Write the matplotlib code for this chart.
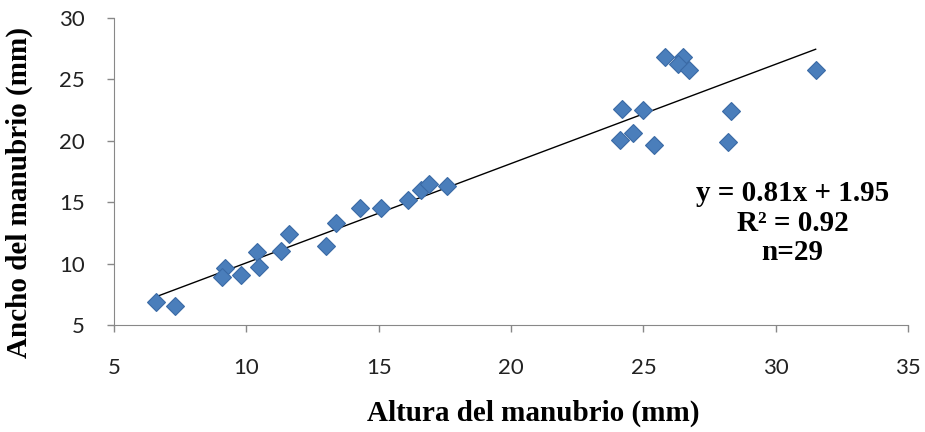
import matplotlib
matplotlib.use("Agg")
import matplotlib.pyplot as plt
import numpy as np

# datos
altura = [6.6, 7.3, 9.2, 9.1, 9.8, 10.4, 10.5, 11.3, 11.6, 13.0, 13.4, 14.3, 15.1,
          16.1, 16.6, 16.9, 17.6, 25.8, 26.5, 26.3, 26.7, 31.5, 24.2, 25.0, 28.3,
          24.1, 24.6, 25.4, 28.2]
ancho = [6.9, 6.5, 9.6, 8.9, 9.1, 10.9, 9.7, 11.0, 12.4, 11.4, 13.3, 14.5, 14.5,
         15.2, 16.0, 16.5, 16.3, 26.8, 26.8, 26.3, 25.8, 25.8, 22.6, 22.5, 22.4,
         20.1, 20.6, 19.7, 19.9]
pendiente, intercepto = 0.81, 1.95

plt.rcParams["font.family"] = ["Lato", "DejaVu Sans"]

fig = plt.figure(figsize=(9.25, 4.32), dpi=100)
ax = fig.add_axes([0.123, 0.248, 0.859, 0.71])

ax.plot(altura, ancho, linestyle="none", marker="D", markersize=9,
        color="#4A7EBB", markeredgecolor="#3A6AA5", markeredgewidth=0.8, zorder=3)

xs = np.array([min(altura), max(altura)])
ax.plot(xs, pendiente * xs + intercepto, color="black", linewidth=1.0, zorder=2)

ax.set_xlim(5, 35)
ax.set_ylim(5, 30)
ax.set_xticks(range(5, 36, 5))
ax.set_yticks(range(5, 31, 5))
ax.tick_params(labelsize=16, color="#888888", length=5, width=1, labelcolor="#222222")
ax.tick_params(axis="x", pad=19)
ax.tick_params(axis="y", pad=16)

for s in ["top", "right"]:
    ax.spines[s].set_visible(False)
for s in ["left", "bottom"]:
    ax.spines[s].set_color("#888888")

ax.set_xlabel("Altura del manubrio (mm)", fontsize=21, fontweight="bold",
              family="Liberation Serif")
ax.set_ylabel("Ancho del manubrio (mm)", fontsize=21, fontweight="bold",
              family="Liberation Serif")
ax.xaxis.set_label_coords(0.528, -0.245)
ax.yaxis.set_label_coords(-0.102, 0.43)

ax.text(30.63, 13.3, "y = 0.81x + 1.95\nR² = 0.92\nn=29", ha="center", va="center",
        fontsize=21, fontweight="bold", family="Liberation Serif", linespacing=1.1)

plt.savefig("out.png", dpi=100)
plt.close()
